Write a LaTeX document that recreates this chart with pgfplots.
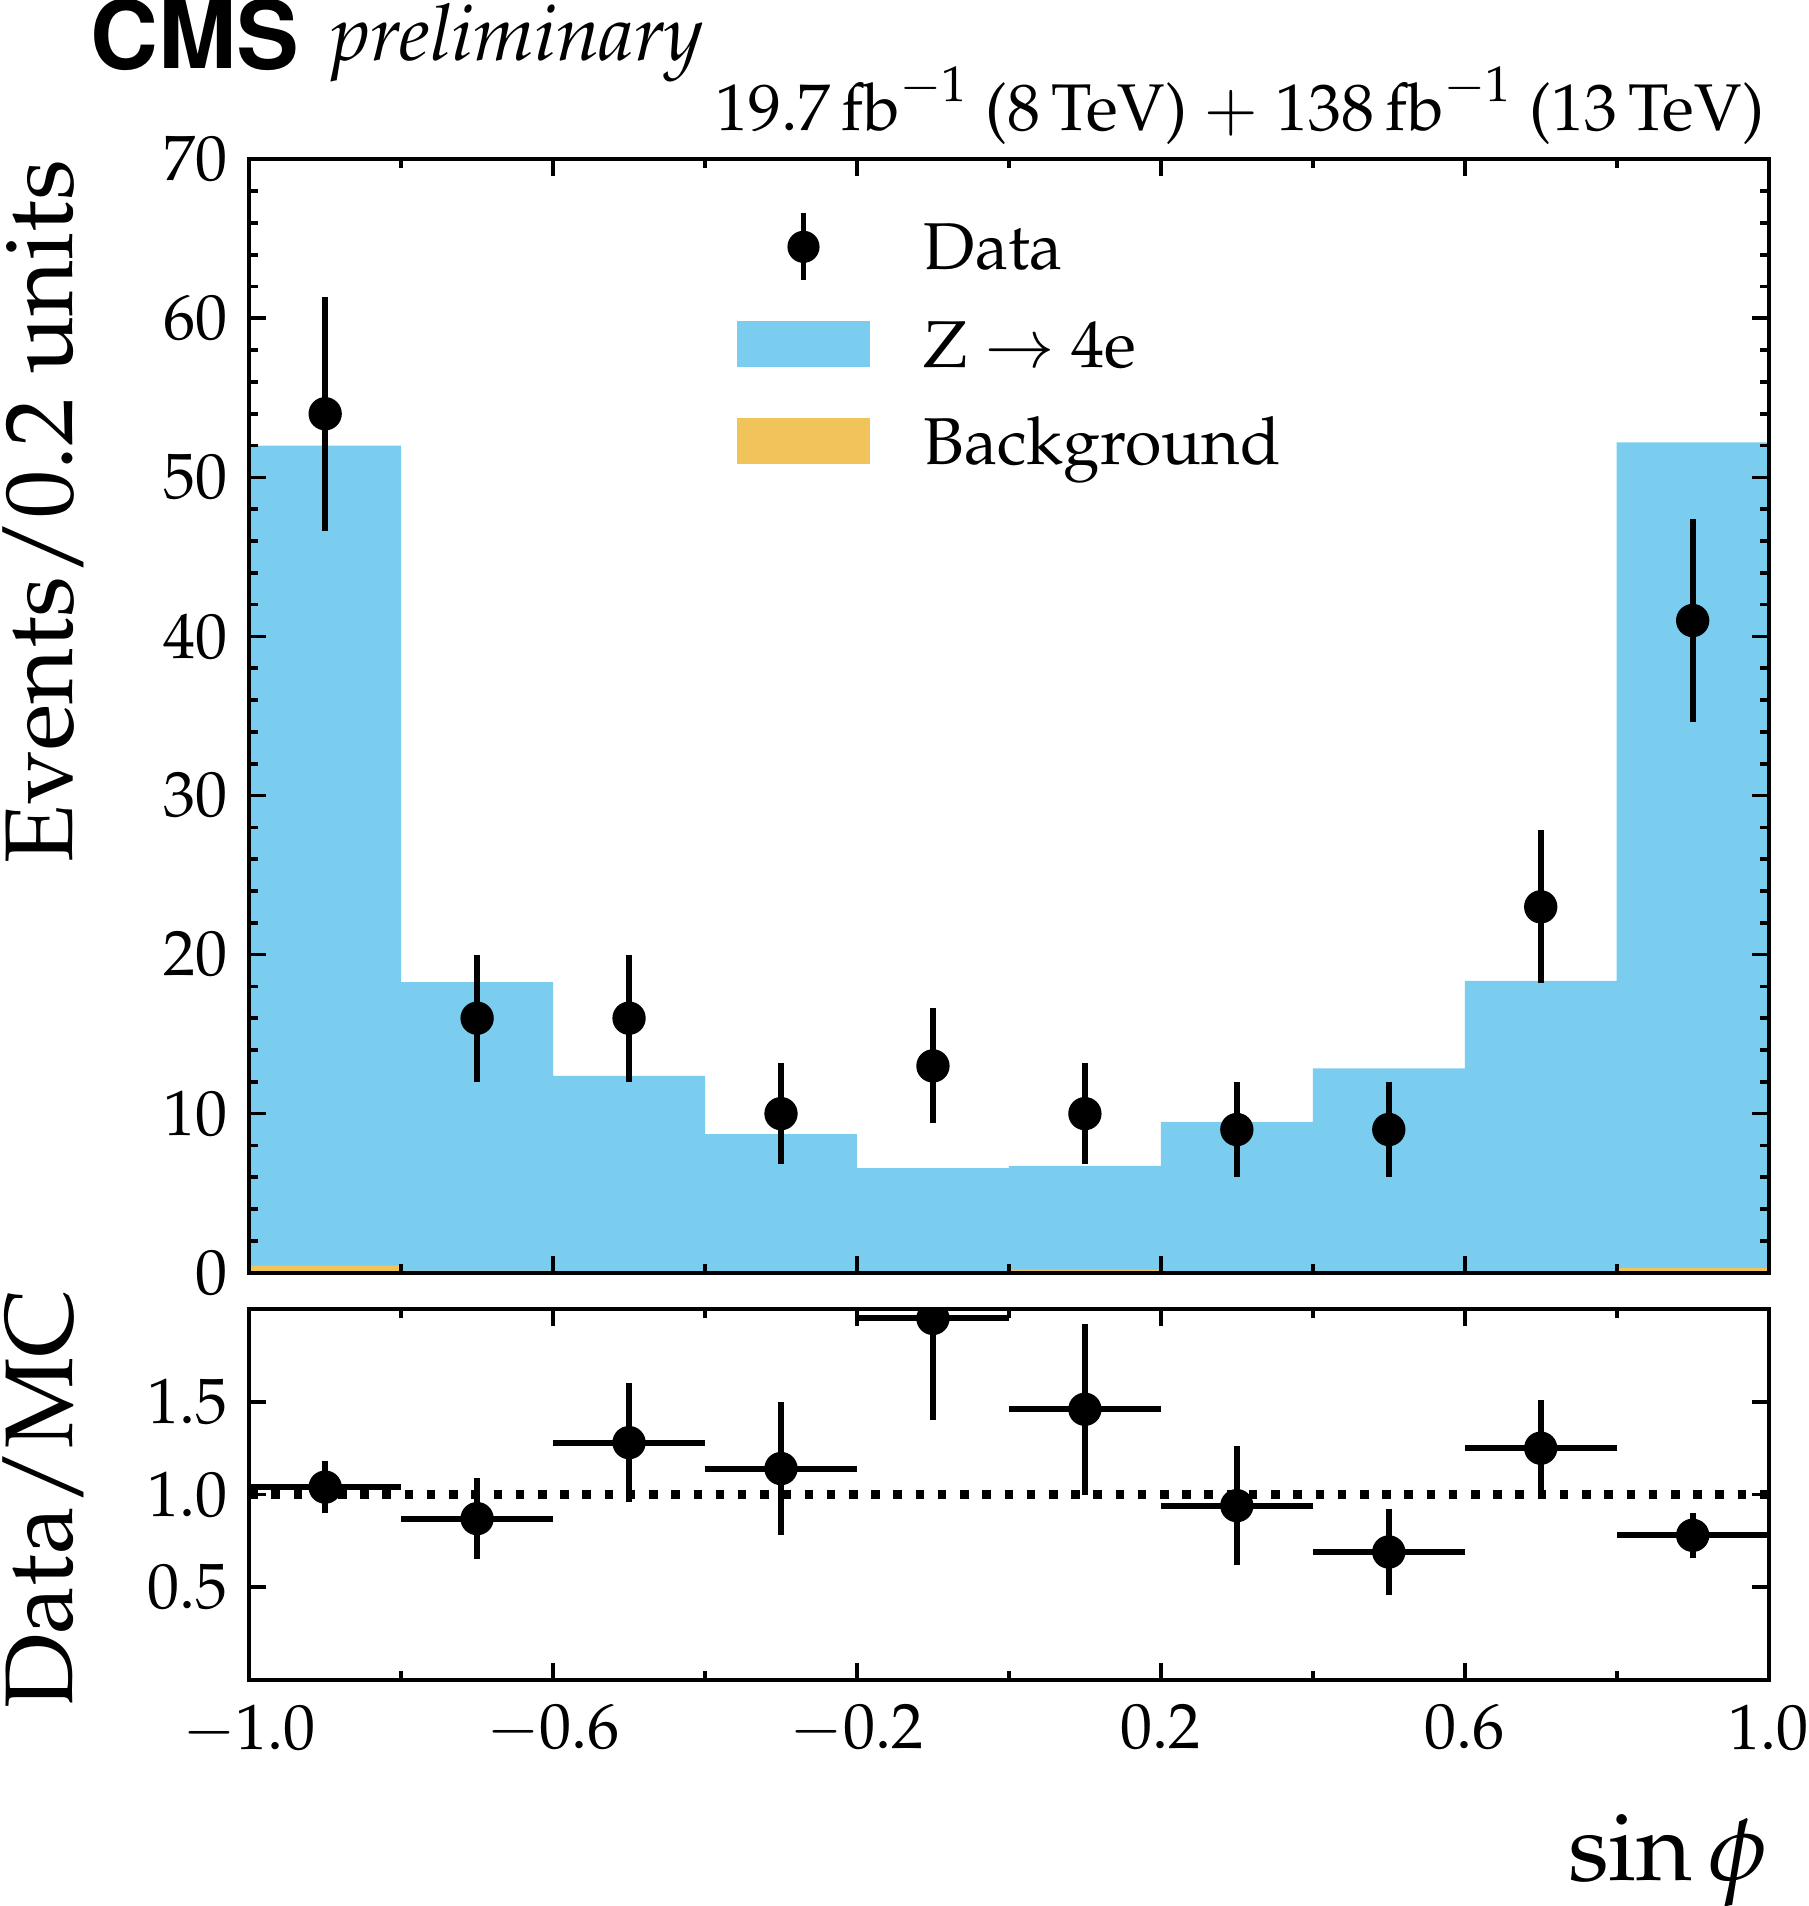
\documentclass[border=0pt]{standalone}
\usepackage[T1]{fontenc}
\usepackage{mathpazo}
\usepackage{helvet}
\usepackage{pgfplots}
\pgfplotsset{compat=1.18}
\definecolor{zblue}{HTML}{7BCDF0}
\definecolor{bgor}{HTML}{F0C45A}
\pgfplotsset{
  cmsbase/.style={
    scale only axis, width=12.5cm, xmin=-1, xmax=1,
    axis on top, clip marker paths=true,
    axis line style={line width=0.95pt},
    every tick/.style={black, line width=0.85pt},
    major tick length=0.14cm, minor tick length=0.07cm,
    tick align=inside,
    xtick={-1,-0.6,-0.2,0.2,0.6,1},
    minor xtick={-0.8,-0.4,0,0.4,0.8},
    tick label style={font=\fontsize{15}{18}\selectfont},
    yticklabel style={anchor=east, inner sep=0pt, xshift=-0.17cm},
    xticklabel style={anchor=north, inner sep=0pt, yshift=-0.20cm},
  },
}
\begin{document}
\begin{tikzpicture}
\begin{axis}[cmsbase, name=top, at={(0cm,0cm)}, anchor=south west,
  height=9.16cm, ymin=0, ymax=70, ytick={0,10,...,70}, minor y tick num=4,
  xticklabels={},
  legend style={at={(rel axis cs:0.3208,0.9541)}, anchor=north west,
    draw=none, fill=none, inner sep=0pt, outer sep=0pt,
    row sep=0.20cm, column sep=0.44cm,
    nodes={inner sep=0pt, text height=0.48cm, text depth=0.10cm,
      font=\fontsize{15.5}{18}\selectfont}},
  legend cell align=left]
\addlegendimage{legend image code/.code={
  \path[draw=none, fill=none] (0cm,-0.3cm) rectangle (1.1cm,0.3cm);
  \draw[black, line width=1.4pt] (0.55cm,-0.275cm) -- (0.55cm,0.275cm);
  \fill[black] (0.55cm,0cm) circle (0.125cm);}}
\addlegendentry{Data}
\addlegendimage{legend image code/.code={
  \path[draw=none, fill=none] (0cm,-0.3cm) rectangle (1.1cm,0.3cm);
  \fill[zblue, draw=none] (0cm,-0.19cm) rectangle (1.1cm,0.19cm);}}
\addlegendentry{Z $\rightarrow$ 4e}
\addlegendimage{legend image code/.code={
  \path[draw=none, fill=none] (0cm,-0.3cm) rectangle (1.1cm,0.3cm);
  \fill[bgor, draw=none] (0cm,-0.19cm) rectangle (1.1cm,0.19cm);}}
\addlegendentry{Background}
\addplot[fill=zblue, draw=none, const plot, forget plot] coordinates {
  (-1,52.0) (-0.8,18.26) (-0.6,12.38) (-0.4,8.71) (-0.2,6.57)
  (0,6.72) (0.2,9.48) (0.4,12.84) (0.6,18.34) (0.8,52.2) (1,52.2)} \closedcycle;
\addplot[fill=bgor, draw=none, const plot, forget plot] coordinates {
  (-1,0.45) (-0.8,0.12) (-0.6,0.08) (-0.4,0.08) (-0.2,0.08)
  (0,0.2) (0.2,0.08) (0.4,0.08) (0.6,0.08) (0.8,0.3) (1,0.3)} \closedcycle;
\addplot[black, only marks, mark=*, mark size=0.13cm, forget plot,
  error bars/.cd, y dir=both, y explicit, error mark=none,
  error bar style={line width=1.4pt}] coordinates {
  (-0.9,54) +- (0,7.35)
  (-0.7,16) +- (0,4.0)
  (-0.5,16) +- (0,4.0)
  (-0.3,10) +- (0,3.16)
  (-0.1,13) +- (0,3.61)
  (0.1,10) +- (0,3.16)
  (0.3,9) +- (0,3.0)
  (0.5,9) +- (0,3.0)
  (0.7,23) +- (0,4.80)
  (0.9,41) +- (0,6.40)};
\end{axis}
\begin{axis}[cmsbase, name=bot, at={(0cm,-0.30cm)}, anchor=north west,
  height=3.05cm, ymin=0, ymax=2, ytick={0.5,1,1.5},
  yticklabel style={/pgf/number format/.cd, fixed, fixed zerofill, precision=1},
  xticklabel style={/pgf/number format/.cd, fixed, fixed zerofill, precision=1}]
\addplot[black, line width=2pt, dash pattern=on 2pt off 3.2pt] coordinates {(-1,1) (1,1)};
\addplot[black, only marks, mark=*, mark size=0.13cm,
  error bars/.cd, x dir=both, x explicit, y dir=both, y explicit, error mark=none,
  error bar style={line width=1.4pt}] coordinates {
  (-0.9,1.04) +- (0.1,0.14)
  (-0.7,0.87) +- (0.1,0.22)
  (-0.5,1.28) +- (0.1,0.32)
  (-0.3,1.14) +- (0.1,0.36)
  (-0.1,1.95) +- (0.1,0.55)
  (0.1,1.46) +- (0.1,0.46)
  (0.3,0.94) +- (0.1,0.32)
  (0.5,0.69) +- (0.1,0.23)
  (0.7,1.25) +- (0.1,0.26)
  (0.9,0.78) +- (0.1,0.12)};
\end{axis}
\node[rotate=90, anchor=base east, inner sep=0pt, font=\fontsize{22.5}{27}\selectfont] at (-1.45,9.16) {Events/0.2 units};
\node[rotate=90, anchor=base east, inner sep=0pt, font=\fontsize{22.5}{27}\selectfont] at (-1.45,-0.13) {Data/MC};
\node[anchor=base east, inner sep=0pt, font=\fontsize{22.5}{27}\selectfont] at (12.50,-5.00) {$\sin\phi$};
\node[anchor=base west, inner sep=0pt, font=\fontsize{22}{26}\fontfamily{phv}\bfseries\selectfont] at (-1.31,9.91) {CMS};
\node[anchor=base west, inner sep=0pt, font=\fontsize{18.3}{22}\itshape] at (0.67,9.97) {preliminary};
\node[anchor=base east, inner sep=0pt, font=\fontsize{15.45}{18}\selectfont] at (12.47,9.40)
  {$19.7\,\mathrm{fb}^{-1}$ (8$\,$TeV) $+$ $138\,\mathrm{fb}^{-1}$ (13$\,$TeV)};
\pgfresetboundingbox
\path[use as bounding box] (-2.05,-5.21) rectangle (12.83,10.47);
\end{tikzpicture}
\end{document}
